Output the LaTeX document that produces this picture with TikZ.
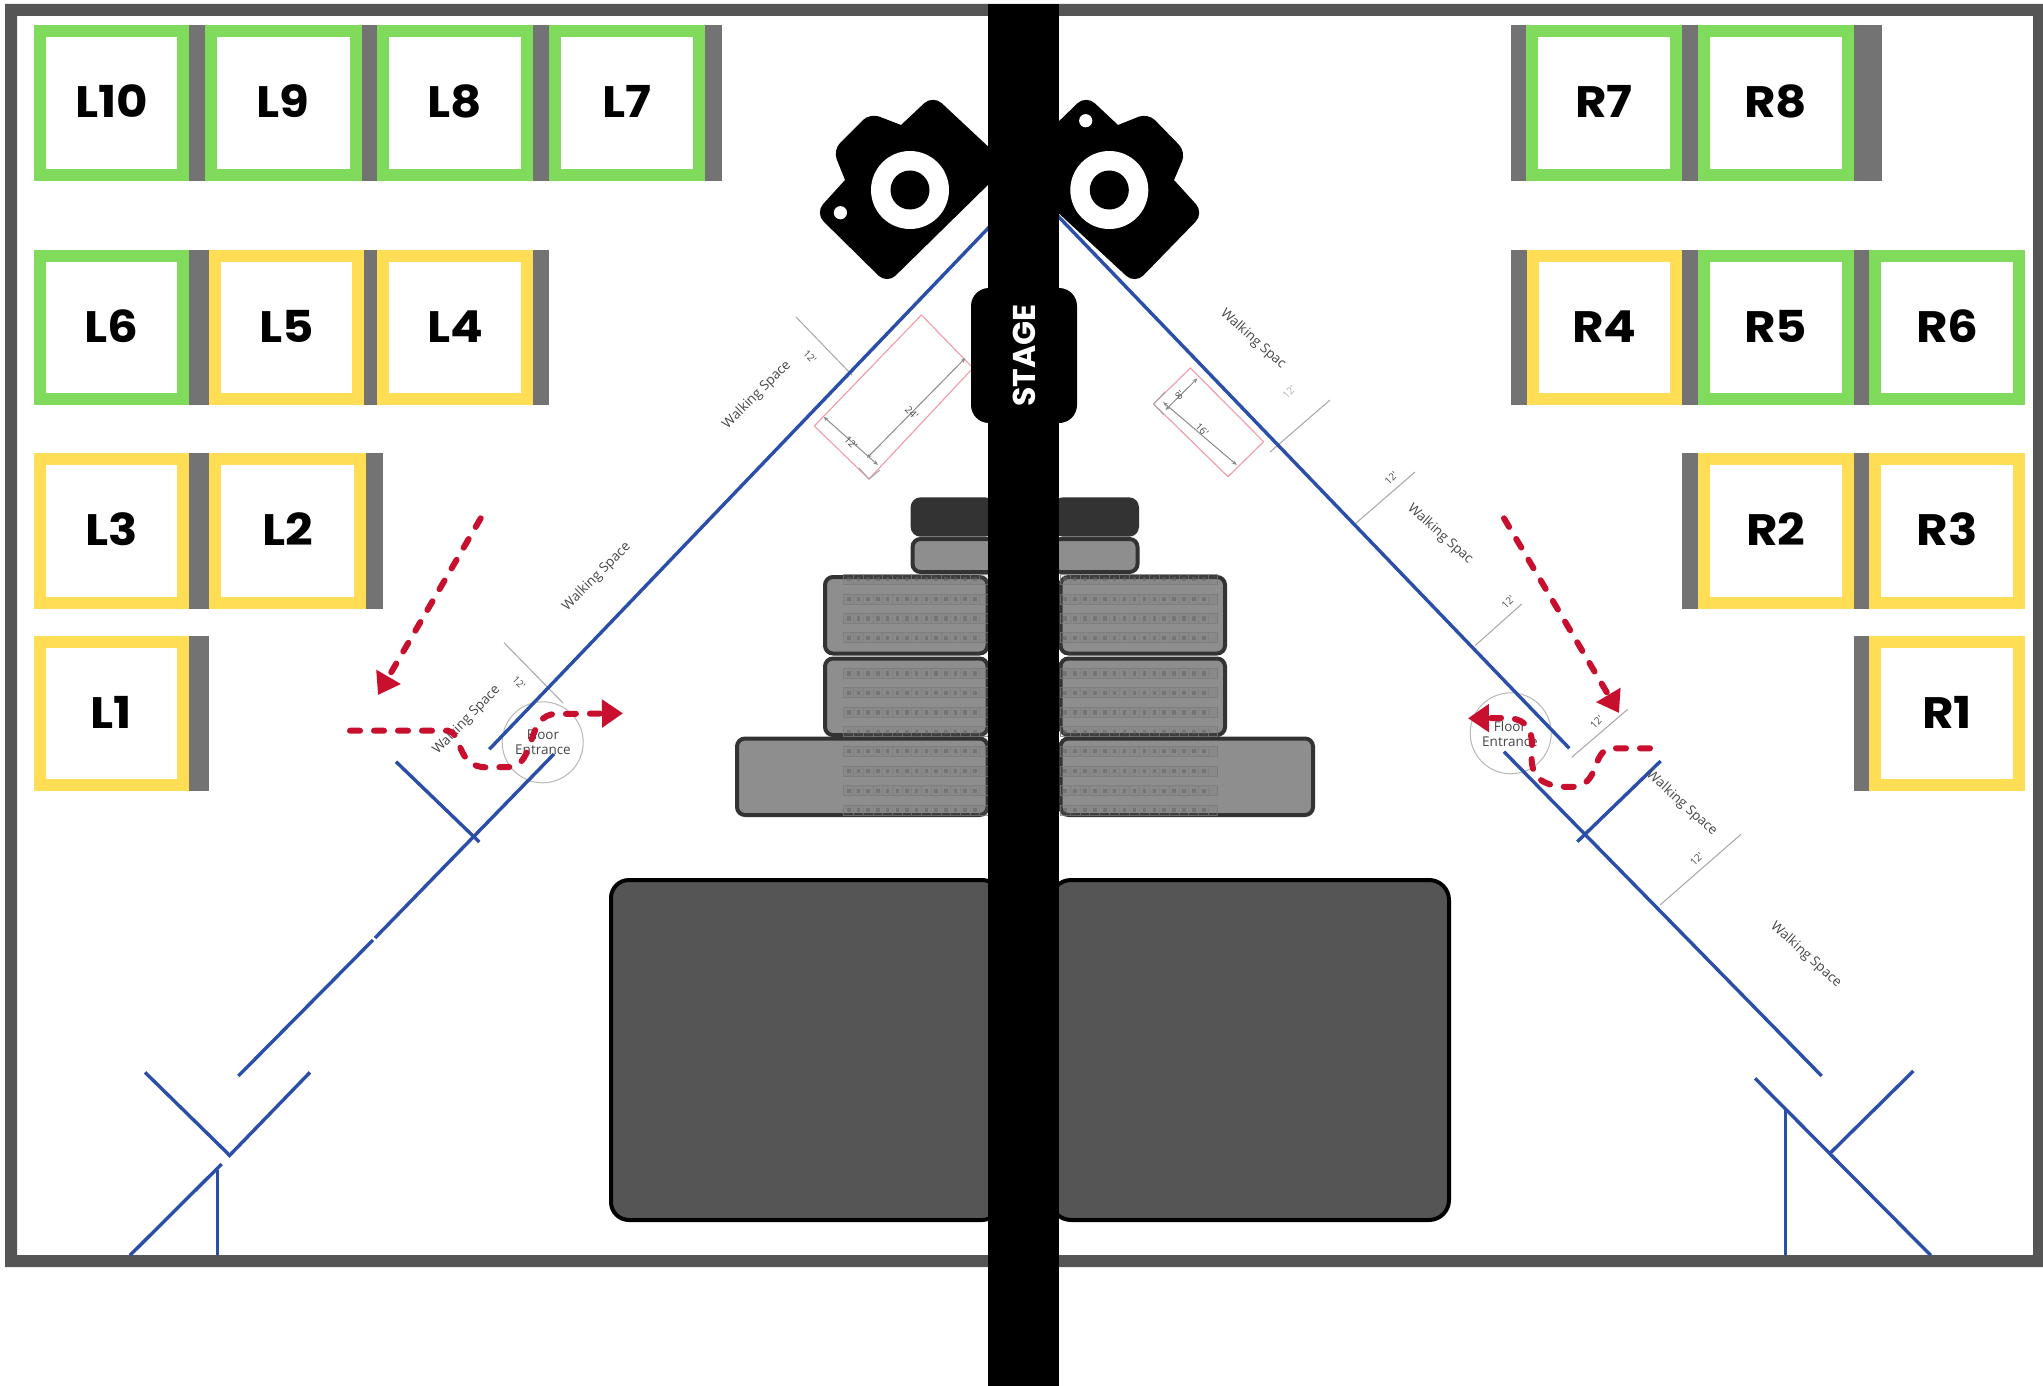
\documentclass[tikz,border=0pt]{standalone}
\usepackage{fontspec}
\usetikzlibrary{arrows.meta}
\newfontfamily\labfont{Poppins}[FakeStretch=1.1]
\newfontfamily\stagefont{Poppins}
\newfontfamily\planfont{Open Sans}
\definecolor{framegray}{HTML}{555555}
\definecolor{bargray}{HTML}{737373}
\definecolor{stallgreen}{HTML}{80DB5C}
\definecolor{stallyellow}{HTML}{FFDD55}
\definecolor{wallblue}{HTML}{2B4EA8}
\definecolor{routered}{HTML}{C8102E}
\definecolor{seatfill}{HTML}{8E8E8E}
\definecolor{seatedge}{HTML}{333333}
\definecolor{pinkline}{HTML}{F29AA8}
\tikzset{
  stallbox/.style={draw=#1,fill=white,line width=12pt,inner sep=0pt,outer sep=0pt,
    font=\labfont\bfseries\fontsize{44}{44}\selectfont,text height=30pt,text depth=0pt},
  wall/.style={draw=wallblue,line width=3.4pt},
  thinline/.style={draw=black!35,line width=1pt},
  dimline/.style={draw=black!45,line width=1pt,{Stealth[length=5pt,width=4pt]}-{Stealth[length=5pt,width=4pt]}},
  pinkrect/.style={draw=pinkline,line width=1.1pt},
  plantext/.style={text=black!72,font=\planfont\fontsize{13.5}{16}\selectfont,inner sep=0pt,align=center},
  dimtext/.style={text=black!70,font=\planfont\fontsize{10}{12}\selectfont,inner sep=0pt},
  route/.style={draw=routered,line width=6pt,line cap=round,dash pattern=on 10pt off 14pt,
    -{Triangle[length=21pt,width=27pt,sep=0pt]}},
  stackbox/.style={fill=seatfill,draw=seatedge,line width=4pt,rounded corners=8pt},
  seatrow/.style={draw=black!52,line width=.7pt,fill=black!55,fill opacity=.18,draw opacity=.75},
  stagetab/.style={fill=black,text=white,rounded corners=18pt,inner sep=0pt,outer sep=0pt,
    minimum width=135pt,minimum height=106pt,rotate=90,
    font=\stagefont\bfseries\fontsize{31.5}{31.5}\selectfont},
}
\newcommand{\stall}[6]{%
  \pgfmathsetmacro{\cx}{(#2+#3)/2}\pgfmathsetmacro{\cy}{(#4+#5)/2}%
  \pgfmathsetmacro{\mw}{#3-#2-12}\pgfmathsetmacro{\mh}{#5-#4-12}%
  \node[stallbox=#6,minimum width=\mw pt,minimum height=\mh pt] (#1) at (\cx,\cy) {#1};}
\newcommand{\graybar}[4]{\fill[bargray] (#1,#3) rectangle (#2,#4);}
\begin{document}
\begin{tikzpicture}[x=1pt,y=-1pt]
\useasboundingbox (0,0) rectangle (2043,1386);
\fill[white] (0,0) rectangle (2043,1386);
% frame
\fill[framegray,even odd rule] (5,4) rectangle (2043,1267) (17,16) rectangle (2033,1255);

% thin dimension lines
\coordinate (tA1) at (795.7,316.7); \coordinate (tA2) at (852,375);
\coordinate (tB1) at (504,642.7);   \coordinate (tB2) at (563.3,703.3);
\coordinate (tC1) at (1330,400);    \coordinate (tC2) at (1270,452);
\coordinate (tD1) at (1415,472);    \coordinate (tD2) at (1355,524);
\coordinate (tE1) at (1521.7,604);  \coordinate (tE2) at (1475,645.7);
\coordinate (tF1) at (1627.7,709.3);\coordinate (tF2) at (1571.7,757.3);
\coordinate (tG1) at (1741,834.3);  \coordinate (tG2) at (1660,905);
\foreach \a/\b in {tA1/tA2,tB1/tB2,tC1/tC2,tD1/tD2,tE1/tE2,tF1/tF2,tG1/tG2}
  \draw[thinline] (\a) -- (\b);

% floor entrances
\node[circle,draw=black!28,line width=1pt,minimum size=81pt,inner sep=0pt] (leftdoor) at (542.7,742.3) {};
\node[circle,draw=black!28,line width=1pt,minimum size=81pt,inner sep=0pt] (rightdoor) at (1510.7,733.3) {};
\node[plantext] (leftdoortext) at (543,742) {Floor\\[-1pt]Entrance};
\node[plantext] (rightdoortext) at (1510,733.5) {Floor\\[-1pt]Entrance};

% pink equipment rectangles
\coordinate (pa) at (921.4,315); \coordinate (pb) at (973,368);
\coordinate (pc) at (869,479);   \coordinate (pd) at (814.3,426);
\draw[pinkrect] (pa) -- (pb) -- (pc) -- (pd) -- cycle;
\coordinate (qa) at (1190.4,368); \coordinate (qb) at (1153.6,404);
\coordinate (qc) at (1228,476.7); \coordinate (qd) at (1263.6,441.7);
\draw[pinkrect] (qa) -- (qb) -- (qc) -- (qd) -- cycle;
\coordinate (da1) at (965.4,358);  \coordinate (da2) at (867,458);
\coordinate (db1) at (823.6,416.7);\coordinate (db2) at (877.9,465);
\coordinate (dc1) at (1197.5,378.3);\coordinate (dc2) at (1165.4,410);
\coordinate (dd1) at (1163,402);   \coordinate (dd2) at (1236.8,465);
\draw[dimline] (da1) -- (da2);
\draw[dimline] (db1) -- (db2);
\draw[dimline] (dc1) -- (dc2);
\draw[dimline] (dd1) -- (dd2);
\draw[thinline] (869,479) -- (859,468) (869,479) -- (880,470);
\draw[thinline] (1153.6,404) -- (1165,392) (1153.6,404) -- (1164,415);
\node[dimtext,rotate=-45] (d24) at (911.8,412.7) {24'};
\node[dimtext,rotate=-45] (d12a) at (851,443) {12'};
\node[dimtext,rotate=45] (d8) at (1179.6,395) {8'};
\node[dimtext,rotate=-45] (d16) at (1202,429.3) {16'};

% walls
\coordinate (w1a) at (995,221);    \coordinate (w1b) at (489.3,749.3);
\coordinate (w2a) at (554,754);    \coordinate (w2b) at (375,938);
\coordinate (w2c) at (373,940);    \coordinate (w2d) at (238.3,1076);
\coordinate (w3a) at (396,761.7);  \coordinate (w3b) at (479.3,842);
\coordinate (w4a) at (145,1072.3); \coordinate (w4b) at (229.3,1155);
\coordinate (w5a) at (310,1072.3); \coordinate (w5b) at (228.3,1156.7);
\coordinate (w6a) at (221.7,1164); \coordinate (w6b) at (130,1255.3);
\coordinate (w7a) at (217.3,1170); \coordinate (w7b) at (217.3,1255);
\coordinate (w8a) at (1055,213);   \coordinate (w8b) at (1569.3,748.3);
\coordinate (w9a) at (1504,751.7); \coordinate (w9b) at (1821.7,1076);
\coordinate (w10a) at (1660.7,761);\coordinate (w10b) at (1577.3,841.7);
\coordinate (w11a) at (1755,1078.3);\coordinate (w11b) at (1930.7,1255.3);
\coordinate (w12a) at (1913.3,1071);\coordinate (w12b) at (1830,1153.3);
\coordinate (w13a) at (1785.7,1108.3);\coordinate (w13b) at (1785.7,1255);
\foreach \a/\b in {w1a/w1b,w2a/w2b,w2c/w2d,w3a/w3b,w4a/w4b,w5a/w5b,w6a/w6b,w7a/w7b,w8a/w8b,w9a/w9b,w10a/w10b,w11a/w11b,w12a/w12b,w13a/w13b}
  \draw[wall] (\a) -- (\b);

% plan texts
\node[plantext,rotate=45] (ws1) at (757,395) {Walking Space};
\node[plantext,rotate=45] (ws2) at (596.7,576.7) {Walking Space};
\node[plantext,rotate=46] (ws3) at (466.7,720) {Walking Space};
\node[plantext,rotate=-42] (ws4) at (1253,339) {Walking Spac};
\node[plantext,rotate=-42] (ws5) at (1440,534) {Walking Spac};
\node[plantext,rotate=-42] (ws6) at (1681.7,803.3) {Walking Space};
\node[plantext,rotate=-42] (ws7) at (1806,955) {Walking Space};
\node[dimtext,rotate=-45] (m1) at (810,356.7) {12'};
\node[dimtext,rotate=-45] (m2) at (519,682.7) {12'};
\node[dimtext,rotate=45,opacity=.45] (m3) at (1289,392) {12'};
\node[dimtext,rotate=45] (m4) at (1391,478) {12'};
\node[dimtext,rotate=45] (m5) at (1508,601.7) {12'};
\node[dimtext,rotate=45] (m6) at (1596.7,721.7) {12'};
\node[dimtext,rotate=45] (m7) at (1696.7,859.3) {12'};

% left stalls
\def\ra{25}\def\rb{181}
\graybar{189}{205}{\ra}{\rb}\graybar{361.5}{377}{\ra}{\rb}\graybar{533}{548.5}{\ra}{\rb}\graybar{704.5}{722}{\ra}{\rb}
\stall{L10}{34}{189}{\ra}{\rb}{stallgreen}
\stall{L9}{205}{361.5}{\ra}{\rb}{stallgreen}
\stall{L8}{377}{533}{\ra}{\rb}{stallgreen}
\stall{L7}{548.5}{704.5}{\ra}{\rb}{stallgreen}
\def\ra{249.5}\def\rb{405}
\graybar{189}{209}{\ra}{\rb}\graybar{364}{377}{\ra}{\rb}\graybar{533}{549}{\ra}{\rb}
\stall{L6}{34}{189}{\ra}{\rb}{stallgreen}
\stall{L5}{209}{364}{\ra}{\rb}{stallyellow}
\stall{L4}{377}{533}{\ra}{\rb}{stallyellow}
\def\ra{453}\def\rb{608.7}
\graybar{189}{209}{\ra}{\rb}\graybar{366}{383}{\ra}{\rb}
\stall{L3}{34}{189}{\ra}{\rb}{stallyellow}
\stall{L2}{209}{366}{\ra}{\rb}{stallyellow}
\def\ra{636}\def\rb{791}
\graybar{189}{209}{\ra}{\rb}
\stall{L1}{34}{189}{\ra}{\rb}{stallyellow}
% right stalls
\def\ra{25}\def\rb{181}
\graybar{1510.5}{1526}{\ra}{\rb}\graybar{1682}{1697.6}{\ra}{\rb}\graybar{1854}{1881.8}{\ra}{\rb}
\stall{R7}{1526}{1682}{\ra}{\rb}{stallgreen}
\stall{R8}{1697.6}{1854}{\ra}{\rb}{stallgreen}
\def\ra{249.5}\def\rb{405}
\graybar{1510.5}{1526.7}{\ra}{\rb}\graybar{1682}{1697.6}{\ra}{\rb}\graybar{1854}{1869}{\ra}{\rb}
\stall{R4}{1526.7}{1682}{\ra}{\rb}{stallyellow}
\stall{R5}{1697.6}{1854}{\ra}{\rb}{stallgreen}
\stall{R6}{1869}{2025.4}{\ra}{\rb}{stallgreen}
\def\ra{453}\def\rb{608.7}
\graybar{1681.7}{1697.7}{\ra}{\rb}\graybar{1853.7}{1869.3}{\ra}{\rb}
\stall{R2}{1697.7}{1853.7}{\ra}{\rb}{stallyellow}
\stall{R3}{1869.3}{2025}{\ra}{\rb}{stallyellow}
\def\ra{635.7}\def\rb{791}
\graybar{1853.7}{1869.3}{\ra}{\rb}
\stall{R1}{1869.3}{2025}{\ra}{\rb}{stallyellow}

% stage front block
\fill[framegray,draw=black,line width=4pt,rounded corners=18pt] (611,880) rectangle (1000,1220);
\fill[framegray,draw=black,line width=4pt,rounded corners=20pt] (1051,880) rectangle (1449,1220);

% tiered seating
\fill[seatedge,rounded corners=10pt] (910.6,497.3) rectangle (995,536.7);
\fill[seatedge,rounded corners=10pt] (1053,497.3) rectangle (1139,536.7);
\draw[stackbox] (912.5,539) rectangle (995,572);
\draw[stackbox] (1053,539) rectangle (1137.5,572);
\draw[stackbox] (825,577) rectangle (987.5,653.5);
\draw[stackbox] (1060.5,577) rectangle (1225,653.5);
\draw[stackbox] (825,658.5) rectangle (987.5,735);
\draw[stackbox] (1060.5,658.5) rectangle (1225,735);
\draw[stackbox] (737,738.5) rectangle (987.5,815);
\draw[stackbox] (1060.5,738.5) rectangle (1313,815);
\foreach \yy in {579,599,618.3,637.7,673.3,692.7,712.3,731.7,751,771,790.7,810}{
  \pgfmathsetmacro{\ya}{\yy-5}\pgfmathsetmacro{\yb}{\yy+5}
  \draw[seatrow] (843.8,\ya) rectangle (988,\yb);
  \draw[seatrow] (1060,\ya) rectangle (1217.5,\yb);
  \foreach \k in {1,...,14}{
    \pgfmathsetmacro{\xa}{843.8+9.7*\k}
    \draw[black!50,line width=.6pt,opacity=.7] (\xa,\ya) -- (\xa,\yb);
    \fill[black!60,opacity=.55] (\xa-6.5,\yy-2.2) rectangle (\xa-3,\yy+2.2);
  }
  \foreach \k in {1,...,15}{
    \pgfmathsetmacro{\xa}{1060+9.9*\k}
    \draw[black!50,line width=.6pt,opacity=.7] (\xa,\ya) -- (\xa,\yb);
    \fill[black!60,opacity=.55] (\xa-6.5,\yy-2.2) rectangle (\xa-3,\yy+2.2);
  }
}

% central bar
\fill[black] (988.3,4) rectangle (1059.3,1386);

% cameras
\fill[black,rounded corners=12pt] (995,153) -- (933,95) [sharp corners] -- (901,125) [rounded corners=10pt] -- (870,113) -- (833,150) [sharp corners] -- (845,180) [rounded corners=12pt] -- (815,213) -- (887,284) [sharp corners] -- (995,178) -- cycle;
\fill[white] (910,190) circle[radius=39pt];
\fill[black] (910,190) circle[radius=19.5pt];
\fill[white] (840.4,212.7) circle[radius=6.6pt];
\fill[black,rounded corners=12pt] (1053,127) -- (1086,95) [sharp corners] -- (1118,125) [rounded corners=10pt] -- (1148,113) -- (1186,152) [sharp corners] -- (1174,180) [rounded corners=12pt] -- (1204,213) -- (1135,284) [sharp corners] -- (1053,208) -- cycle;
\fill[white] (1109.3,190) circle[radius=39pt];
\fill[black] (1109.3,190) circle[radius=19.5pt];
\fill[white] (1085.7,120.7) circle[radius=6.6pt];

% stage label
\node[stagetab] (stage) at (1024,355.5) {STAGE};

% red routes
\coordinate (r1a) at (480.7,518.3); \coordinate (r1b) at (378,695);
\coordinate (r2a) at (350,730.7);   \coordinate (r2b) at (623,713.3);
\coordinate (r3a) at (1504,518.3);  \coordinate (r3b) at (1619,713);
\coordinate (r4a) at (1650,748.3);  \coordinate (r4b) at (1468,718.3);
\draw[route] (r1a) -- (r1b);
\draw[route] (r2a) -- (448,730.7) .. controls (462,732) and (456,767) .. (486,767.3) -- (510,767) .. controls (536,765) and (526,714) .. (556,714) -- (r2b);
\draw[route] (r3a) -- (r3b);
\draw[route] (r4a) -- (1612,748.3) .. controls (1590,750) and (1602,787) .. (1570,787) .. controls (1525,787) and (1532,760) .. (1532,745) .. controls (1532,725) and (1522,718) .. (1505,718) -- (r4b);
\end{tikzpicture}
\end{document}
